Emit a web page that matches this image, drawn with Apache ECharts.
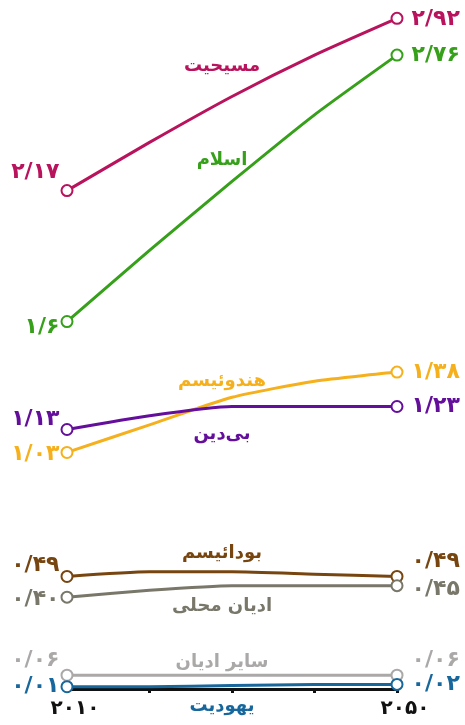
<!DOCTYPE html>
<html>
<head>
<meta charset="utf-8">
<script src="https://cdn.jsdelivr.net/npm/echarts@6/dist/echarts.min.js"></script>
<style>
  html, body { margin: 0; padding: 0; background: #fff; }
  #chart { width: 465px; height: 725px; }
</style>
</head>
<body>
<div id="chart"></div>
<script>
// Years on the horizontal axis (only first and last are labelled)
const years = ['۲۰۱۰', '۲۰۲۰', '۲۰۳۰', '۲۰۴۰', '۲۰۵۰'];

// Population by religion, billions
const christians  = [2.17, 2.38, 2.58, 2.76, 2.92];
const muslims     = [1.60, 1.91, 2.21, 2.50, 2.76];
const hindus      = [1.03, 1.15, 1.27, 1.34, 1.38];
const unaffiliated = [1.13, 1.19, 1.23, 1.23, 1.23];
const buddhists   = [0.49, 0.51, 0.51, 0.50, 0.49];
const folk        = [0.40, 0.43, 0.45, 0.45, 0.45];
const others      = [0.06, 0.06, 0.06, 0.06, 0.06];
const jews        = [0.01, 0.01, 0.015, 0.02, 0.02];

const FONT = '"DejaVu Sans", "Noto Sans", sans-serif';
const faDigits = '۰۱۲۳۴۵۶۷۸۹';
function toFa(v, dp) {
  return v.toFixed(dp).replace('.', '/').replace(/[0-9]/g, d => faDigits[+d]);
}

// name, values, colour, decimals [start, end],
// value-label offsets [start dy, end dy], series-name offset dy
const defs = [
  { name: 'مسیحیت',   data: christians,   color: '#B8135C', dp: [2, 2], dy: [-18, 1],  ny: -30 },
  { name: 'اسلام',    data: muslims,      color: '#36A01A', dp: [1, 2], dy: [6, 0],    ny: -21 },
  { name: 'هندوئیسم', data: hindus,       color: '#F5B01C', dp: [2, 2], dy: [2, 0],    ny: -16 },
  { name: 'بی‌دین',    data: unaffiliated, color: '#640E9C', dp: [2, 2], dy: [-10, 0],  ny: 28 },
  { name: 'بودائیسم', data: buddhists,    color: '#77450F', dp: [2, 2], dy: [-11, -15], ny: -19 },
  { name: 'ادیان محلی', data: folk,       color: '#79776A', dp: [2, 2], dy: [2, 4],    ny: 21 },
  { name: 'سایر ادیان', data: others,     color: '#ABA8A8', dp: [2, 2], dy: [-15, -15], ny: -13 },
  { name: 'یهودیت',   data: jews,         color: '#17679C', dp: [2, 2], dy: [0, 0],    ny: 21 }
];

const series = defs.map(d => {
  const last = d.data.length - 1;
  return {
    name: d.name,
    type: 'line',
    smooth: 0.2,
    z: 3,
    lineStyle: { color: d.color, width: 3 },
    itemStyle: { color: d.color, borderColor: d.color, borderWidth: 3 },
    symbol: 'emptyCircle',
    symbolSize: 11,
    showSymbol: true,
    data: d.data.map((v, i) => {
      const item = { value: v };
      if (i === 0 || i === last) {
        const first = i === 0;
        item.label = {
          show: true,
          position: first ? 'left' : 'right',
          distance: first ? 1 : 8,
          offset: [0, first ? d.dy[0] : d.dy[1]],
          formatter: () => toFa(v, first ? d.dp[0] : d.dp[1]),
          color: d.color,
          fontFamily: FONT,
          fontWeight: 'bold',
          fontSize: 22
        };
      } else {
        item.symbol = 'circle';
        item.symbolSize = 0;
        if (i === 2) {
          item.label = {
            show: true,
            position: 'inside',
            offset: [-10, d.ny],
            formatter: d.name,
            color: d.color,
            fontFamily: FONT,
            fontWeight: 'bold',
            fontSize: 18
          };
        }
      }
      return item;
    })
  };
});

const chart = echarts.init(document.getElementById('chart'), null, { renderer: 'canvas' });
chart.setOption({
  animation: false,
  backgroundColor: '#fff',
  grid: { left: 67, right: 68, top: 0, bottom: 36 },
  xAxis: {
    type: 'category',
    data: years,
    boundaryGap: false,
    axisLine: { show: true, lineStyle: { color: '#111', width: 3 } },
    axisTick: { show: true, interval: 0, length: 4, lineStyle: { color: '#111', width: 3 } },
    axisLabel: {
      interval: (i) => i === 0 || i === years.length - 1,
      margin: 10,
      padding: [0, 0, 0, 16],
      color: '#111',
      fontFamily: FONT,
      fontWeight: 'bold',
      fontSize: 20
    },
    splitLine: { show: false }
  },
  yAxis: { type: 'value', min: 0, max: 3, show: false, splitLine: { show: false } },
  series: series
});
</script>
</body>
</html>
